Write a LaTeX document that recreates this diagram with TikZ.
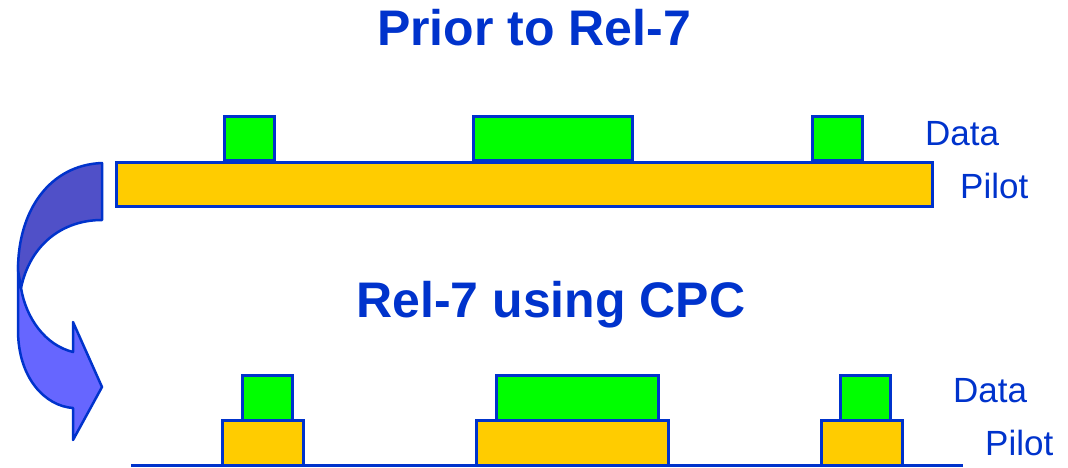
\documentclass[tikz,border=0pt]{standalone}
\usepackage{fontspec}
\setmainfont{Liberation Sans}
\usepackage{xcolor}
\definecolor{cpcblue}{RGB}{0,51,204}
\definecolor{datagreen}{RGB}{0,255,0}
\definecolor{pilotyellow}{RGB}{255,204,0}
\definecolor{arrowdark}{RGB}{80,80,200}
\definecolor{arrowlight}{RGB}{102,102,255}

\tikzset{
  databox/.style={fill=datagreen, draw=cpcblue, line width=3pt},
  pilotbox/.style={fill=pilotyellow, draw=cpcblue, line width=3pt},
  title/.style={text=cpcblue, font=\fontsize{50}{58}\selectfont\bfseries, inner sep=0pt, anchor=base},
  label/.style={text=cpcblue, font=\fontsize{35}{40}\selectfont, inner sep=0pt, anchor=base west}
}

\begin{document}
\begin{tikzpicture}[x=1pt, y=-1pt]
  \useasboundingbox (0,0) rectangle (1068,467);
  % Titles
  \node[title] (prior) at (534,45) {Prior to Rel-7};
  \node[title] (cpc) at (551,317) {Rel-7 using CPC};
  % Top: continuous pilot
  \draw[pilotbox] (116,162) rectangle (932,206);
  \draw[databox] (224,116) rectangle (274,160);
  \draw[databox] (473,116) rectangle (632,160);
  \draw[databox] (812,116) rectangle (862,160);
  \node[label] (data1) at (925,145) {Data};
  \node[label] (pilot1) at (960,198) {Pilot};
  % Bottom: gated pilot
  \draw[cpcblue, line width=3pt] (131,465) -- (963,465);
  \draw[pilotbox] (222,420) rectangle (303,465);
  \draw[pilotbox] (476,420) rectangle (668,465);
  \draw[pilotbox] (821,420) rectangle (902,465);
  \draw[databox] (242,375) rectangle (292,420);
  \draw[databox] (496,375) rectangle (658,420);
  \draw[databox] (840,375) rectangle (890,420);
  \node[label] (data2) at (953,402) {Data};
  \node[label] (pilot2) at (985,455) {Pilot};
  % Curved arrow
  \draw[fill=arrowlight, draw=cpcblue, line width=2.5pt, line join=round]
    (18,265) -- (18,330) .. controls (18,378) and (45,406) .. (73,408)
    -- (73,440) -- (102,387) -- (73,322) -- (73,352)
    .. controls (45,345) and (26,318) .. (21,288) -- cycle;
  \draw[fill=arrowdark, draw=cpcblue, line width=2.5pt, line join=round]
    (102,163) .. controls (50,165) and (18,210) .. (18,270) -- (21,288)
    .. controls (30,245) and (62,220) .. (102,220) -- cycle;
\end{tikzpicture}
\end{document}
